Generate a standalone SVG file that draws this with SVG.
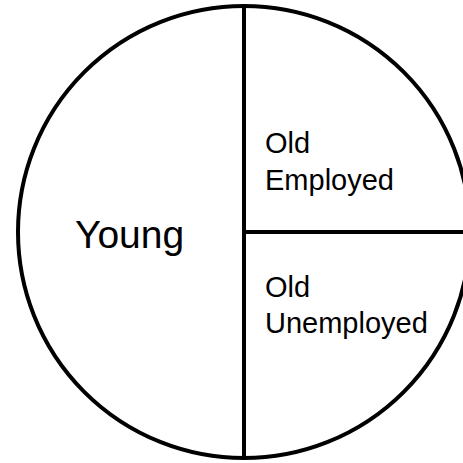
<svg xmlns="http://www.w3.org/2000/svg" width="463" height="463" viewBox="0 0 463 463">
<style>
.ln{fill:none;stroke:#000;stroke-width:4}
.t{font-family:"Liberation Sans",Arial,sans-serif;fill:#000}
</style>
<rect width="463" height="463" fill="#fff"/>
<g id="pie">
<circle class="ln" cx="244" cy="232" r="226"/>
</g>
<g id="connectors">
<line class="ln" x1="244" y1="6" x2="244" y2="458"/>
<line class="ln" x1="244" y1="232" x2="470" y2="232"/>
</g>
<g id="young"><text class="t" x="75" y="248" font-size="39">Young</text></g>
<g id="old-employed"><text class="t" font-size="29"><tspan x="265" y="153">Old</tspan><tspan x="265" y="190">Employed</tspan></text></g>
<g id="old-unemployed"><text class="t" font-size="29"><tspan x="265" y="297">Old</tspan><tspan x="265" y="333">Unemployed</tspan></text></g>
</svg>
